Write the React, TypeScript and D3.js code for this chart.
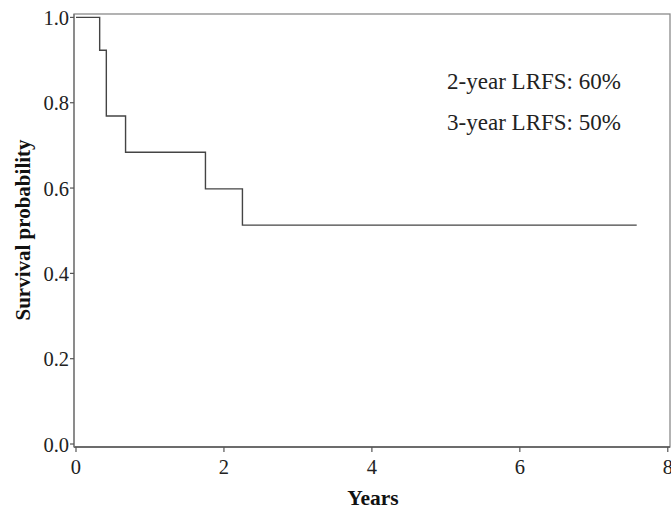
import React from "react";
import * as d3 from "d3";

const times = [0, 0.32, 0.41, 0.67, 1.75, 2.25, 7.58];
const survival = [1.0, 0.923, 0.769, 0.684, 0.598, 0.513, 0.513];
const xTicks = [0, 2, 4, 6, 8];
const yTicks = [0.0, 0.2, 0.4, 0.6, 0.8, 1.0];
const annotations = ["2-year LRFS: 60%", "3-year LRFS: 50%"];

export default function App() {
  const W = 671, H = 509;
  const left = 74, right = 670, top = 14, bottom = 447;
  const x = d3.scaleLinear().domain([-0.027, 8.03]).range([left, right]);
  const y = d3.scaleLinear().domain([-0.007, 1.008]).range([bottom, top]);
  const pts: [number, number][] = times.map((t, i) => [t, survival[i]]);
  const line = d3.line<[number, number]>().x(d => x(d[0])).y(d => y(d[1])).curve(d3.curveStepAfter);
  const font = "'Liberation Serif', 'Times New Roman', serif";
  return (
    <svg width={W} height={H} style={{ position: "absolute", left: 0, top: 0, background: "#fff" }} fontFamily={font}>
      <rect x={left} y={top} width={right - left} height={bottom - top} fill="none" stroke="#8a8a8a" strokeWidth={1.3} />
      <line x1={left} x2={right} y1={bottom} y2={bottom} stroke="#555" strokeWidth={1.3} />
      <line x1={left} x2={left} y1={top} y2={bottom} stroke="#777" strokeWidth={1.3} />
      {xTicks.map(t => (
        <g key={"x" + t}>
          <line x1={x(t)} x2={x(t)} y1={bottom} y2={bottom + 5} stroke="#555" strokeWidth={1.2} />
          <text x={x(t)} y={474} textAnchor="middle" fontSize={20.5} fill="#222">{t}</text>
        </g>
      ))}
      {yTicks.map(t => (
        <g key={"y" + t}>
          <line x1={left - 4} x2={left} y1={y(t)} y2={y(t)} stroke="#555" strokeWidth={1.2} />
          <text x={left - 5} y={y(t) + 7.5} textAnchor="end" fontSize={20.5} fill="#222">{t.toFixed(1)}</text>
        </g>
      ))}
      <path d={line(pts) || ""} fill="none" stroke="#444" strokeWidth={1.4} />
      {annotations.map((a, i) => (
        <text key={a} x={534} y={89 + i * 41} textAnchor="middle" fontSize={23} fill="#222">{a}</text>
      ))}
      <text x={373} y={505} textAnchor="middle" fontSize={21.5} fontWeight="bold" fill="#111">Years</text>
      <text transform={`translate(30,230) rotate(-90)`} textAnchor="middle" fontSize={21} fontWeight="bold" fill="#111">Survival probability</text>
    </svg>
  );
}
